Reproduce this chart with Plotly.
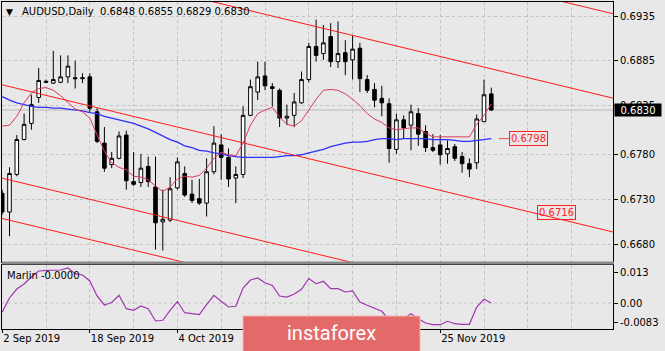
import plotly.graph_objects as go
from plotly.subplots import make_subplots

# ---------------- data ----------------
open_ = [0.6737, 0.6716, 0.6758, 0.6797, 0.6815, 0.6844, 0.6862, 0.6860, 0.6861, 0.6867,
         0.6866, 0.6865, 0.6867, 0.6828, 0.6793, 0.6769, 0.6776, 0.6802, 0.6750, 0.6749,
         0.6767, 0.6744, 0.6705, 0.6707, 0.6743, 0.6759, 0.6736, 0.6731, 0.6726, 0.6761,
         0.6791, 0.6777, 0.6754, 0.6758, 0.6824, 0.6850, 0.6868, 0.6856, 0.6852, 0.6821,
         0.6824, 0.6838, 0.6864, 0.6901, 0.6893, 0.6912, 0.6884, 0.6894, 0.6886, 0.6899,
         0.6864, 0.6853, 0.6843, 0.6837, 0.6786, 0.6819, 0.6813, 0.6826, 0.6806, 0.6788,
         0.6791, 0.6781, 0.6789, 0.6778, 0.6770, 0.6771, 0.6817, 0.6848]
high = [0.6741, 0.6766, 0.6802, 0.6826, 0.6847, 0.6877, 0.6864, 0.6896, 0.6891, 0.6891,
        0.6885, 0.6871, 0.6871, 0.6832, 0.6811, 0.6783, 0.6806, 0.6807, 0.6783, 0.6781,
        0.6778, 0.6778, 0.6741, 0.6755, 0.6777, 0.6767, 0.6752, 0.6753, 0.6776, 0.6812,
        0.6803, 0.6787, 0.6767, 0.6834, 0.6864, 0.6884, 0.6884, 0.6860, 0.6854, 0.6836,
        0.6849, 0.6873, 0.6905, 0.6931, 0.6925, 0.6927, 0.6929, 0.6908, 0.6913, 0.6905,
        0.6869, 0.6860, 0.6857, 0.6843, 0.6826, 0.6824, 0.6836, 0.6832, 0.6813, 0.6803,
        0.6802, 0.6796, 0.6792, 0.6783, 0.6776, 0.6825, 0.6864, 0.6855]
low = [0.6713, 0.6689, 0.6756, 0.6796, 0.6808, 0.6838, 0.6860, 0.6859, 0.6860, 0.6860,
       0.6854, 0.6860, 0.6828, 0.6793, 0.6761, 0.6765, 0.6775, 0.6741, 0.6745, 0.6744,
       0.6744, 0.6674, 0.6673, 0.6705, 0.6741, 0.6733, 0.6726, 0.6724, 0.6711, 0.6758,
       0.6752, 0.6744, 0.6726, 0.6754, 0.6823, 0.6841, 0.6852, 0.6834, 0.6811, 0.6813,
       0.6811, 0.6837, 0.6861, 0.6884, 0.6886, 0.6878, 0.6877, 0.6869, 0.6864, 0.6850,
       0.6849, 0.6833, 0.6823, 0.6771, 0.6781, 0.6798, 0.6785, 0.6790, 0.6783, 0.6783,
       0.6769, 0.6770, 0.6773, 0.6760, 0.6755, 0.6764, 0.6817, 0.6829]
close_ = [0.6716, 0.6759, 0.6797, 0.6814, 0.6836, 0.6863, 0.6861, 0.6864, 0.6867, 0.6879,
          0.6865, 0.6866, 0.6832, 0.6795, 0.6765, 0.6776, 0.6801, 0.6751, 0.6747, 0.6765,
          0.6750, 0.6704, 0.6708, 0.6742, 0.6772, 0.6735, 0.6729, 0.6726, 0.6761, 0.6793,
          0.6777, 0.6753, 0.6758, 0.6824, 0.6856, 0.6867, 0.6857, 0.6854, 0.6821, 0.6823,
          0.6839, 0.6864, 0.6901, 0.6891, 0.6905, 0.6884, 0.6893, 0.6884, 0.6898, 0.6865,
          0.6852, 0.6841, 0.6838, 0.6787, 0.6819, 0.6810, 0.6828, 0.6803, 0.6788, 0.6785,
          0.6780, 0.6787, 0.6776, 0.6770, 0.6764, 0.6820, 0.6847, 0.6830]

ma_fast = [0.6812, 0.6813, 0.6823, 0.6838, 0.6849, 0.6854, 0.6855, 0.6852, 0.6846, 0.6838,
           0.6831, 0.6828, 0.6821, 0.6802, 0.6784, 0.6771, 0.6766, 0.6763, 0.6756, 0.6755,
           0.6752, 0.6745, 0.6739, 0.6744, 0.6753, 0.6756, 0.6755, 0.6757, 0.6765, 0.6776,
           0.6783, 0.6780, 0.6779, 0.6793, 0.6813, 0.6826, 0.6830, 0.6833, 0.6822, 0.6814,
           0.6812, 0.6818, 0.6830, 0.6842, 0.6852, 0.6853, 0.6852, 0.6848, 0.6842, 0.6835,
           0.6826, 0.6820, 0.6816, 0.6810, 0.6808, 0.6809, 0.6810, 0.6810, 0.6804, 0.6800,
           0.6800, 0.6800, 0.6800, 0.6800, 0.6800, 0.6814, 0.6824, 0.6837]
ma_slow = [0.6845, 0.6841, 0.6838, 0.6836, 0.6834, 0.6833, 0.6833, 0.6832, 0.6832, 0.6831,
           0.6830, 0.6829, 0.6827, 0.6826, 0.6823, 0.6821, 0.6819, 0.6817, 0.6815, 0.6812,
           0.6809, 0.6805, 0.6801, 0.6797, 0.6794, 0.6790, 0.6788, 0.6785, 0.6784, 0.6782,
           0.6781, 0.6779, 0.6778, 0.6777, 0.6777, 0.6777, 0.6777, 0.6777, 0.6778, 0.6779,
           0.6779, 0.6780, 0.6782, 0.6784, 0.6786, 0.6789, 0.6791, 0.6793, 0.6794, 0.6794,
           0.6795, 0.6797, 0.6798, 0.6798, 0.6797, 0.6798, 0.6798, 0.6798, 0.6798, 0.6797,
           0.6797, 0.6797, 0.6796, 0.6795, 0.6795, 0.6796, 0.6797, 0.6798]

marlin = [-0.00385, 0.00214, 0.00598, 0.00812, 0.01111, 0.01368, 0.01397, 0.01397, 0.01410, 0.01496,
          0.01252, 0.01197, 0.00940, 0.00299, -0.00085, 0.00021, 0.00329, -0.00244, -0.00312, -0.00128,
          -0.00244, -0.00769, -0.00739, -0.00312, 0.00064, -0.00415, -0.00457, -0.00500, -0.00073, 0.00329,
          0.00073, -0.00171, -0.00141, 0.00641, 0.00983, 0.01068, 0.00868, 0.00748, 0.00299, 0.00256,
          0.00385, 0.00585, 0.01047, 0.00825, 0.00927, 0.00611, 0.00611, 0.00470, 0.00513, 0.00043,
          -0.00098, -0.00244, -0.00355, -0.00726, -0.00568, -0.00671, -0.00457, -0.00671, -0.00855, -0.00927,
          -0.00927, -0.00782, -0.00885, -0.00910, -0.00910, -0.00171, 0.00158, -0.00002]

# equidistant channel lines: price at bar -1 and at bar 85
chan_x = [-1, 85]
chan_a = [0.71039, 0.69349]
chan_b = [0.70096, 0.68406]
chan_c = [0.68601, 0.66911]
chan_d = [0.67558, 0.65868]
chan_e = [0.67108, 0.65418]
chan_label = 0.6716

price_ticks = [0.6935, 0.6885, 0.6835, 0.6780, 0.6730, 0.6680]
price_tick_text = ["0.6935", "0.6885", "0.6835", "0.6780", "0.6730", "0.6680"]
marlin_ticks = [0.013, 0.0, -0.0083]
marlin_tick_text = ["0.013", "0.00", "-0.0083"]
date_idx = [0, 12, 24, 60]
date_text = ["2 Sep 2019", "18 Sep 2019", "4 Oct 2019", "25 Nov 2019"]
grid_idx = list(range(0, 90, 6))

bars = list(range(len(close_)))

# ---------------- layout helpers (pixel -> paper) ----------------
W, H = 665, 351
L, R, T, B = 2, 52, 2, 22
PW, PH = W - L - R, H - T - B


def pxx(x):
    return (x - L) / PW


def pxy(y):
    return (H - B - y) / PH


BG = "#e8e8e8"
GRID = "#c2c2c2"
FONT = "DejaVu Sans"

fig = make_subplots(rows=2, cols=1, shared_xaxes=True)

fig.add_trace(go.Candlestick(
    x=bars, open=open_, high=high, low=low, close=close_,
    increasing=dict(line=dict(color="#000000", width=1), fillcolor="#ffffff"),
    decreasing=dict(line=dict(color="#000000", width=1), fillcolor="#000000"),
    whiskerwidth=0, showlegend=False, hoverinfo="skip"), row=1, col=1)

fig.add_trace(go.Scatter(x=bars, y=ma_slow, mode="lines",
                         line=dict(color="#2f2fff", width=1.3),
                         showlegend=False, hoverinfo="skip"), row=1, col=1)
fig.add_trace(go.Scatter(x=bars, y=ma_fast, mode="lines",
                         line=dict(color="#dc3a5a", width=1),
                         showlegend=False, hoverinfo="skip"), row=1, col=1)

for ch in (chan_a, chan_b, chan_c, chan_d, chan_e):
    fig.add_trace(go.Scatter(x=chan_x, y=ch, mode="lines",
                             line=dict(color="#ff1a1a", width=1),
                             showlegend=False, hoverinfo="skip"), row=1, col=1)

fig.add_trace(go.Scatter(x=bars, y=marlin, mode="lines",
                         line=dict(color="#a035b0", width=1.2),
                         showlegend=False, hoverinfo="skip"), row=2, col=1)

main_dom = [pxy(262), 1]
ind_dom = [0, pxy(264.5)]
main_range = [0.6935 - (262 - 16) / 8952, 0.6935 + 14 / 8952]
ind_range = [(303 - 329) / 2340, (303 - 264.5) / 2340]
x_range = [(L - 2.2) / 7.3, (L + PW - 2.2) / 7.3]

axis_common = dict(showline=True, mirror=True, linecolor="#000000", linewidth=1,
                   zeroline=False)

fig.update_layout(
    width=W, height=H, margin=dict(l=L, r=R, t=T, b=B),
    paper_bgcolor=BG, plot_bgcolor=BG, hovermode=False, dragmode=False,
    font=dict(family=FONT, size=10, color="#000000"),
    xaxis=dict(range=x_range, rangeslider=dict(visible=False), showticklabels=False,
               tickvals=date_idx, ticks="", showgrid=True, gridcolor=GRID, griddash="3px,3px",
               minor=dict(tickvals=grid_idx, showgrid=True, gridcolor=GRID, griddash="3px,3px", ticks=""),
               **axis_common),
    xaxis2=dict(range=x_range, rangeslider=dict(visible=False), tickvals=date_idx, ticktext=date_text,
                ticks="outside", ticklen=3, tickcolor="#000000", ticklabelposition="outside right",
                tickfont=dict(family=FONT, size=10, color="#000000"),
                showgrid=True, gridcolor=GRID, griddash="3px,3px",
                minor=dict(tickvals=grid_idx, showgrid=True, gridcolor=GRID, griddash="3px,3px", ticks=""),
                **axis_common),
    yaxis=dict(domain=main_dom, range=main_range, side="right", tickvals=price_ticks,
               ticktext=price_tick_text, ticks="outside", ticklen=4, tickcolor="#000000",
               tickfont=dict(family=FONT, size=10, color="#000000"),
               showgrid=True, gridcolor=GRID, griddash="3px,3px", **axis_common),
    yaxis2=dict(domain=ind_dom, range=ind_range, side="right", tickvals=marlin_ticks,
                ticktext=marlin_tick_text, ticks="outside", ticklen=4, tickcolor="#000000",
                tickfont=dict(family=FONT, size=10, color="#000000"),
                showgrid=False, **axis_common),
)

shapes = [
    # bid line
    dict(type="line", xref="x domain", x0=0, x1=1, yref="y", y0=close_[-1], y1=close_[-1],
         line=dict(color="#b8b8b8", width=1), layer="below"),
    # zero level of indicator
    dict(type="line", xref="x2 domain", x0=0, x1=1, yref="y2", y0=0, y1=0,
         line=dict(color=GRID, width=1, dash="3px,3px"), layer="below"),
    # panel separator
    dict(type="rect", xref="paper", x0=pxx(2), x1=pxx(614), yref="paper", y0=pxy(264.5), y1=pxy(261.5),
         fillcolor="#8a8a8a", line=dict(width=0), layer="above"),
    # short connector to MA label
    dict(type="line", xref="paper", x0=pxx(499), x1=pxx(509), yref="y", y0=ma_slow[-1], y1=ma_slow[-1],
         line=dict(color="#ff4040", width=1), layer="above"),
    # watermark box
    dict(type="rect", xref="paper", x0=pxx(243), x1=pxx(420), yref="paper", y0=pxy(352), y1=pxy(316),
         fillcolor="#e46a6a", line=dict(color="#f2b4b4", width=1), layer="above"),
]
fig.update_layout(shapes=shapes)

annotations = [
    dict(text="\u25bc", xref="paper", x=pxx(4), xanchor="left", yref="paper", y=pxy(12), yanchor="middle",
         showarrow=False, font=dict(family=FONT, size=9, color="#000000")),
    dict(text="AUDUSD,Daily\u00a0\u00a0" + " ".join(f"{v:.4f}" for v in (open_[-1], high[-1], low[-1], close_[-1])),
         xref="paper", x=pxx(20), xanchor="left", yref="paper", y=pxy(12), yanchor="middle",
         showarrow=False, font=dict(family=FONT, size=10, color="#000000")),
    dict(text=f"Marlin {marlin[-1]:.4f}", xref="paper", x=pxx(5), xanchor="left", yref="paper", y=pxy(275),
         yanchor="middle", showarrow=False, font=dict(family=FONT, size=10, color="#000000")),
    dict(text=f"{ma_slow[-1]:.4f}", xref="paper", x=pxx(509), xanchor="left", yref="y", y=ma_slow[-1],
         yanchor="middle", showarrow=False, font=dict(family=FONT, size=10, color="#ff2020"),
         bordercolor="#ff2020", borderwidth=1, borderpad=1),
    dict(text=f"{chan_label:.4f}", xref="paper", x=pxx(537), xanchor="left", yref="y", y=chan_label,
         yanchor="middle", showarrow=False, font=dict(family=FONT, size=10, color="#ff2020"),
         bordercolor="#ff2020", borderwidth=1, borderpad=1),
    dict(text=f"{close_[-1]:.4f}", xref="paper", x=pxx(613.5), xanchor="left", yref="y", y=close_[-1],
         yanchor="middle", showarrow=False, font=dict(family=FONT, size=10, color="#ffffff"),
         bgcolor="#000000", width=44, height=10, align="center", borderpad=1),
    dict(text="instaforex", xref="paper", x=pxx(331.5), xanchor="center", yref="paper", y=pxy(333),
         yanchor="middle", showarrow=False, font=dict(family="Roboto", size=20, color="#ffffff")),
]
fig.update_layout(annotations=annotations)

fig.write_html("out.html")
